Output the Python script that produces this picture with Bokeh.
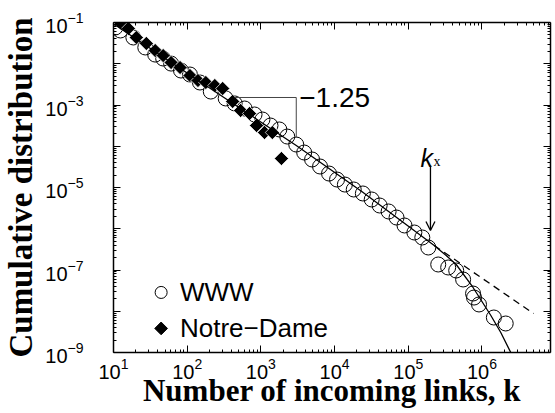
import math
from bokeh.plotting import figure
from bokeh.models import (LogAxis, FixedTicker, Label, Arrow, OpenHead, Range1d,
                          CustomJSTickFormatter, LogTickFormatter)
from bokeh.embed import file_html
from bokeh.resources import INLINE

# ---------------- data ----------------
www_k = [10.6, 12.4, 18.6, 27.0, 36.8, 47.2, 60.5, 82.4, 109, 149, 209, 333, 441, 601,
         820, 1050, 1350, 1780, 2280, 3020, 3870, 4950, 6350, 8410, 1.08e4, 1.38e4,
         1.82e4, 2.42e4, 3.19e4, 4.09e4, 5.41e4, 6.93e4, 8.89e4, 1.21e5, 1.55e5,
         1.87e5, 2.55e5, 3.48e5, 4.47e5, 5.55e5, 7.57e5, 7.80e5, 9.12e5, 1.45e6, 2.10e6]
www_p = [7.57e-2, 6.40e-2, 4.33e-2, 2.48e-2, 1.67e-2, 1.34e-2, 1.01e-2, 6.85e-3, 5.48e-3,
         3.51e-3, 2.12e-3, 1.44e-3, 1.09e-3, 8.22e-4, 5.89e-4, 4.45e-4, 3.18e-4, 2.55e-4,
         1.72e-4, 1.10e-4, 7.05e-5, 4.78e-5, 3.23e-5, 2.18e-5, 1.56e-5, 1.18e-5, 8.95e-6,
         7.16e-6, 5.12e-6, 3.66e-6, 2.62e-6, 1.87e-6, 1.20e-6, 8.11e-7, 6.14e-7, 3.51e-7,
         1.36e-7, 1.15e-7, 9.73e-8, 5.89e-8, 2.69e-8, 2.15e-8, 1.46e-8, 7.05e-9, 5.05e-9]

nd_k = [12.8, 15.9, 20.4, 27.9, 36.8, 47.2, 60.5, 80.0, 109, 140, 179, 237, 303, 414,
        531, 701, 873, 1120, 1430, 1900]
nd_p = [9.46e-2, 7.16e-2, 4.33e-2, 3.10e-2, 2.09e-2, 1.58e-2, 1.07e-2, 8.11e-3, 5.19e-3,
        3.93e-3, 3.51e-3, 2.97e-3, 2.51e-3, 1.22e-3, 7.36e-4, 6.22e-4, 3.18e-4, 2.15e-4,
        2.15e-4, 5.05e-5]

# fitted curve (solid) and pure power law (dashed)
fit_k = [10.3, 163, 3020, 2.34e4, 2.25e5, 3.27e5, 4.47e5, 7.57e5, 1.32e6, 1.80e6, 2.46e6]
fit_p = [8.94e-2, 3.32e-3, 1.04e-4, 8.0e-6, 3.93e-7, 2.25e-7, 1.36e-7, 3.77e-8, 7.89e-9,
         3.05e-9, 1.0e-9]
pl_k = [2.25e5, 5.02e6]
pl_p = [3.93e-7, 8.81e-9]

# slope triangle and k_x marker
tri_k = [441, 3020, 3020]
tri_p = [1.52e-3, 1.52e-3, 1.63e-4]
slope_text = "\u22121.25"
k_x = 2.0e5
arrow_p = [3.41e-5, 9.08e-7]
kx_label_p = 5.33e-5

x_tick_exps = [1, 2, 3, 4, 5, 6]
y_tick_exps = [-1, -3, -5, -7, -9]
series_names = ["WWW", "Notre\u2212Dame"]
x_title = "Number of incoming links, k"
y_title = "Cumulative distribution"

LX0, LX1 = 1.0, 6.93
LY0, LY1 = -9.0, -1.0
X_MIN, X_MAX = 10 ** LX0, 10 ** LX1
Y_MIN, Y_MAX = 10 ** LY0, 10 ** LY1

SANS = "Liberation Sans"
SERIF = "Liberation Serif"

p = figure(width=555, height=413, x_axis_type="log", y_axis_type="log",
           x_range=Range1d(X_MIN, X_MAX), y_range=Range1d(Y_MIN, Y_MAX),
           output_backend="svg", toolbar_location=None,
           min_border_left=110, min_border_right=5, min_border_top=22,
           min_border_bottom=61)
p.outline_line_color = None
p.grid.visible = False
p.background_fill_color = "white"
p.border_fill_color = "white"

x_major = [10.0 ** e for e in range(1, 8)]
x_minor = [m * 10.0 ** e for e in range(1, 7) for m in range(2, 10)]
y_major = [10.0 ** e for e in range(-9, 0)]
y_minor = [m * 10.0 ** e for e in range(-9, -1) for m in range(2, 10)]


def style_axis(ax, major, minor):
    ax.ticker = FixedTicker(ticks=major, minor_ticks=minor)
    ax.axis_line_color = "black"
    ax.axis_line_width = 1.5
    ax.major_tick_in = 7
    ax.major_tick_out = 0
    ax.minor_tick_in = 3
    ax.minor_tick_out = 0
    ax.major_tick_line_width = 1
    ax.minor_tick_line_width = 1
    ax.major_tick_line_color = "black"
    ax.minor_tick_line_color = "black"
    ax.major_label_text_font = SANS
    ax.major_label_text_font_size = "20px"
    ax.major_label_text_color = "black"


def hide_labels(ax):
    ax.formatter = CustomJSTickFormatter(code="return ''")
    ax.major_label_text_font_size = "0px"
    ax.major_label_standoff = 0


xa = p.xaxis[0]
ya = p.yaxis[0]
style_axis(xa, x_major, x_minor)
style_axis(ya, y_major, y_minor)
xa.formatter = LogTickFormatter()
ya.formatter = LogTickFormatter()
xa.major_label_overrides = {10.0 ** 7: ""}
ya.major_label_overrides = {10.0 ** e: "" for e in range(-9, 0) if e not in y_tick_exps}
xa.major_label_standoff = 5
ya.major_label_standoff = 30

xa.axis_label = x_title
xa.axis_label_text_font = SERIF
xa.axis_label_text_font_style = "bold"
xa.axis_label_text_font_size = "31px"
xa.axis_label_text_color = "black"
xa.axis_label_standoff = -9

ya.axis_label = y_title
ya.axis_label_text_font = SERIF
ya.axis_label_text_font_style = "bold"
ya.axis_label_text_font_size = "33px"
ya.axis_label_text_color = "black"
ya.axis_label_standoff = 3

top_ax = LogAxis()
right_ax = LogAxis()
style_axis(top_ax, x_major, x_minor)
style_axis(right_ax, y_major, y_minor)
hide_labels(top_ax)
hide_labels(right_ax)
p.add_layout(top_ax, "above")
p.add_layout(right_ax, "right")

# ---------------- data marks ----------------
p.scatter(www_k, www_p, marker="circle", size=15, fill_color=None,
          line_color="black", line_width=1)
p.scatter(nd_k, nd_p, marker="square", angle=math.pi / 4, size=10,
          fill_color="black", line_color="white", line_width=0.7)
p.line(fit_k, fit_p, line_color="black", line_width=1.3)
p.line(pl_k, pl_p, line_color="black", line_width=1.3, line_dash="7 5")
p.line(tri_k, tri_p, line_color="#444444", line_width=1)

p.add_layout(Label(x=tri_k[1], y=tri_p[0], x_offset=3, text=slope_text,
                   text_font=SANS, text_font_size="28px", text_color="black",
                   text_baseline="alphabetic"))
p.add_layout(Label(x=k_x, y=kx_label_p, x_offset=-10, text="k", text_font=SANS,
                   text_font_style="italic", text_font_size="25px", text_color="black",
                   text_baseline="alphabetic"))
p.add_layout(Label(x=k_x, y=kx_label_p, x_offset=3, y_offset=-4, text="x",
                   text_font=SERIF, text_font_size="14px", text_color="black",
                   text_baseline="alphabetic"))
p.add_layout(Arrow(x_start=k_x, y_start=arrow_p[0], x_end=k_x, y_end=arrow_p[1],
                   line_width=1.3, end=OpenHead(size=9, line_width=1.3)))


# ---------------- legend (positions as frame fractions) ----------------
def frame_pt(fx, fy):
    return 10 ** (LX0 + fx * (LX1 - LX0)), 10 ** (LY0 + fy * (LY1 - LY0))


lx, ly1 = frame_pt(0.109, 0.182)
_, ly2 = frame_pt(0.109, 0.073)
tx, _ = frame_pt(0.152, 0.0)
p.scatter([lx], [ly1], marker="circle", size=12, fill_color=None, line_color="black",
          line_width=1)
p.scatter([lx], [ly2], marker="square", angle=math.pi / 4, size=9, fill_color="black",
          line_color="black")
p.add_layout(Label(x=tx, y=ly1, text=series_names[0], text_font=SANS,
                   text_font_size="26px", text_color="black", text_baseline="middle"))
p.add_layout(Label(x=tx, y=ly2, text=series_names[1], text_font=SANS,
                   text_font_size="26px", text_color="black", text_baseline="middle"))

open("out.html", "w").write(file_html(p, INLINE))
